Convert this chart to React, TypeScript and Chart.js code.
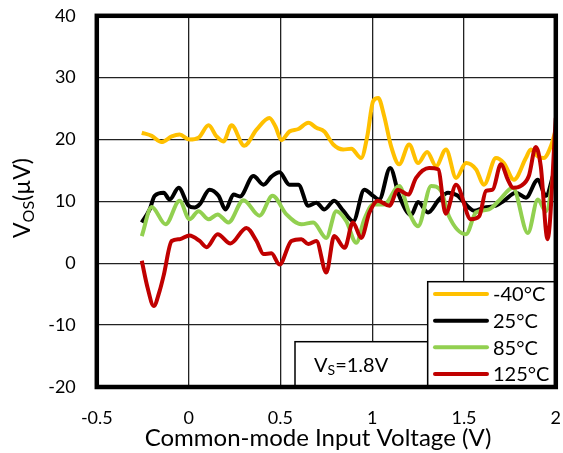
import React, { useEffect, useRef } from "react";
import { Chart, registerables } from "chart.js";

Chart.register(...registerables);

const FONT = "Lato, 'Open Sans', sans-serif";

const seriesLabels = ["-40°C", "25°C", "85°C", "125°C"];
const seriesColors = ["#FFC000", "#000000", "#92D050", "#C00000"];

const xTickValues = [-0.5, 0, 0.5, 1, 1.5, 2];
const yTickValues = [-20, -10, 0, 10, 20, 30, 40];

const xAxisTitle = "Common-mode Input Voltage (V)";

const xM40 = [-0.255, -0.201, -0.147, -0.092, -0.049, 0.005, 0.054, 0.109, 0.152, 0.19, 0.234, 0.303, 0.37, 0.44, 0.473, 0.505, 0.549, 0.598, 0.652, 0.696, 0.739, 0.788, 0.842, 0.886, 0.94, 0.973, 1.005, 1.033, 1.065, 1.103, 1.147, 1.201, 1.25, 1.299, 1.348, 1.402, 1.457, 1.511, 1.565, 1.609, 1.674, 1.717, 1.772, 1.837, 1.864, 1.902, 1.935, 1.973, 2.0];
const yM40 = [21.1, 20.6, 19.6, 20.5, 20.8, 20.0, 20.3, 22.3, 20.5, 19.7, 22.3, 19.0, 21.6, 23.5, 22.1, 19.9, 21.3, 21.7, 22.7, 21.9, 21.3, 19.2, 18.4, 18.5, 17.0, 20.5, 26.2, 26.7, 23.8, 18.9, 16.0, 19.2, 16.2, 18.0, 15.7, 18.4, 13.8, 16.2, 15.2, 12.7, 17.0, 16.2, 13.5, 17.0, 18.4, 17.3, 17.0, 18.9, 21.6];

const x25 = [-0.255, -0.212, -0.185, -0.136, -0.103, -0.054, 0.0, 0.033, 0.06, 0.114, 0.163, 0.201, 0.245, 0.28, 0.353, 0.408, 0.451, 0.495, 0.549, 0.598, 0.652, 0.696, 0.739, 0.793, 0.842, 0.897, 0.957, 1.005, 1.038, 1.098, 1.147, 1.212, 1.25, 1.304, 1.364, 1.413, 1.462, 1.527, 1.554, 1.609, 1.674, 1.717, 1.783, 1.837, 1.902, 1.946, 1.984, 2.0];
const y25 = [6.6, 8.7, 10.9, 11.4, 10.3, 12.2, 9.3, 9.0, 9.5, 11.9, 10.9, 8.7, 11.1, 10.8, 14.1, 12.7, 14.0, 14.7, 12.7, 12.7, 9.3, 9.8, 8.7, 10.1, 8.5, 6.8, 11.9, 10.9, 10.3, 15.4, 10.9, 7.8, 9.9, 8.2, 10.3, 11.4, 11.0, 9.0, 8.5, 9.0, 9.3, 10.1, 11.4, 10.6, 13.5, 10.9, 14.1, 16.0];

const x85 = [-0.255, -0.201, -0.125, -0.049, 0.005, 0.054, 0.109, 0.158, 0.217, 0.299, 0.386, 0.457, 0.533, 0.614, 0.679, 0.75, 0.804, 0.859, 0.913, 0.957, 1.005, 1.065, 1.147, 1.201, 1.25, 1.321, 1.375, 1.418, 1.511, 1.565, 1.636, 1.69, 1.766, 1.848, 1.902, 1.946, 2.0];
const y85 = [4.4, 9.1, 6.3, 10.1, 7.1, 8.4, 7.1, 7.9, 6.6, 10.2, 7.7, 10.9, 7.9, 6.3, 6.6, 4.1, 8.4, 6.8, 3.3, 7.1, 9.5, 9.5, 12.5, 8.2, 6.0, 12.5, 11.7, 7.6, 4.7, 8.2, 8.7, 10.1, 12.2, 4.9, 10.3, 8.4, 17.0];

const x125 = [-0.255, -0.223, -0.19, -0.158, -0.136, -0.092, -0.049, 0.005, 0.06, 0.098, 0.158, 0.228, 0.315, 0.37, 0.408, 0.451, 0.495, 0.56, 0.614, 0.652, 0.696, 0.75, 0.793, 0.85, 0.895, 0.94, 0.985, 1.03, 1.094, 1.14, 1.196, 1.239, 1.31, 1.359, 1.4, 1.457, 1.538, 1.583, 1.62, 1.656, 1.701, 1.739, 1.766, 1.81, 1.853, 1.891, 1.918, 1.955, 2.0];
const y125 = [0.4, -4.0, -6.9, -4.5, -2.0, 3.6, 3.9, 4.5, 3.6, 2.6, 4.7, 3.2, 5.7, 3.6, 1.5, 1.6, -0.2, 3.6, 3.9, 3.1, 3.6, -1.5, 4.4, 2.5, 6.6, 4.1, 8.2, 10.1, 9.3, 11.9, 11.1, 13.8, 15.4, 15.2, 8.0, 12.7, 7.1, 7.6, 11.7, 11.9, 16.0, 13.5, 12.2, 12.5, 14.1, 18.8, 15.7, 3.9, 23.5];

const seriesX = [xM40, x25, x85, x125];
const seriesY = [yM40, y25, y85, y125];

const toPoints = (xs: number[], ys: number[]) => xs.map((x, i) => ({ x, y: ys[i] }));

function drawSubText(
  ctx: CanvasRenderingContext2D,
  x: number,
  y: number,
  parts: { t: string; size: number; dy: number }[],
  align: "left" | "center"
) {
  let total = 0;
  for (const p of parts) {
    ctx.font = `${p.size}px ${FONT}`;
    total += ctx.measureText(p.t).width;
  }
  let cx = align === "center" ? x - total / 2 : x;
  ctx.textAlign = "left";
  ctx.textBaseline = "alphabetic";
  for (const p of parts) {
    ctx.font = `${p.size}px ${FONT}`;
    ctx.fillText(p.t, cx, y + p.dy);
    cx += ctx.measureText(p.t).width;
  }
}

const overlayPlugin = {
  id: "overlay",
  afterDatasetsDraw(chart: any) {
    const { ctx, chartArea } = chart;
    const { left, right, top, bottom } = chartArea;
    ctx.save();
    ctx.fillStyle = "#ffffff";
    ctx.strokeStyle = "#000000";
    ctx.lineWidth = 1.5;
    // V_S box
    const vsL = 295, vsR = 427.7, vsT = 341.7;
    ctx.fillRect(vsL, vsT, vsR - vsL, bottom - vsT);
    ctx.strokeRect(vsL, vsT, vsR - vsL, bottom - vsT);
    // legend box
    const lgL = 427.7, lgT = 281.7;
    ctx.fillRect(lgL, lgT, right - lgL, bottom - lgT);
    ctx.strokeRect(lgL, lgT, right - lgL, bottom - lgT);
    // frame
    ctx.lineWidth = 4.5;
    ctx.strokeRect(left, top, right - left, bottom - top);

    // legend entries
    const rowY = [294, 320.7, 347.3, 374];
    ctx.lineCap = "round";
    for (let i = 0; i < seriesLabels.length; i++) {
      ctx.strokeStyle = seriesColors[i];
      ctx.lineWidth = 4;
      ctx.beginPath();
      ctx.moveTo(435, rowY[i]);
      ctx.lineTo(487, rowY[i]);
      ctx.stroke();
      ctx.fillStyle = "#000";
      ctx.font = `20px ${FONT}`;
      ctx.textAlign = "left";
      ctx.textBaseline = "middle";
      ctx.fillText(seriesLabels[i], 493, rowY[i] + 1);
    }

    // V_S label
    ctx.fillStyle = "#000";
    drawSubText(
      ctx,
      314,
      372,
      [
        { t: "V", size: 20, dy: 0 },
        { t: "S", size: 14, dy: 3 },
        { t: "=1.8V", size: 20, dy: 0 },
      ],
      "left"
    );

    // X axis title
    ctx.font = `24px ${FONT}`;
    ctx.textAlign = "center";
    ctx.textBaseline = "middle";
    ctx.fillText(xAxisTitle, 318, 438);

    // Y axis title
    ctx.translate(30, 198);
    ctx.rotate(-Math.PI / 2);
    drawSubText(
      ctx,
      0,
      0,
      [
        { t: "V", size: 23, dy: 0 },
        { t: "OS", size: 16, dy: 4 },
        { t: "(µV)", size: 23, dy: 0 },
      ],
      "center"
    );
    ctx.restore();
  },
};

export default function App() {
  const canvasRef = useRef<HTMLCanvasElement | null>(null);

  useEffect(() => {
    const canvas = canvasRef.current;
    if (!canvas) return;
    const datasets = seriesLabels.map((label, i) => ({
      label,
      data: toPoints(seriesX[i], seriesY[i]),
      borderColor: seriesColors[i],
      backgroundColor: seriesColors[i],
      borderWidth: 4,
      pointRadius: 0,
      fill: false,
      cubicInterpolationMode: "monotone" as const,
      order: seriesLabels.length - i,
    }));
    const chart = new Chart(canvas, {
      type: "line",
      data: { datasets },
      plugins: [overlayPlugin],
      options: {
        responsive: false,
        animation: false,
        events: [],
        layout: { padding: { top: 15.8, right: 7.2, bottom: 0, left: 0 } },
        plugins: {
          legend: { display: false },
          tooltip: { enabled: false },
          title: { display: false },
        },
        scales: {
          x: {
            type: "linear",
            min: -0.5,
            max: 2,
            afterBuildTicks: (s: any) => {
              s.ticks = xTickValues.map((v) => ({ value: v }));
            },
            afterFit: (s: any) => {
              s.height = 66;
              s.paddingLeft = 0;
              s.paddingRight = 0;
            },
            grid: { color: "#222", lineWidth: 1.3, drawTicks: false },
            border: { display: false },
            ticks: {
              padding: 20,
              color: "#000",
              font: { family: FONT, size: 18 },
              maxRotation: 0,
              callback: (v: any) => String(v),
            },
            title: { display: false },
          },
          y: {
            type: "linear",
            min: -20,
            max: 40,
            afterBuildTicks: (s: any) => {
              s.ticks = yTickValues.map((v) => ({ value: v }));
            },
            afterFit: (s: any) => {
              s.width = 96.8;
              s.paddingTop = 0;
              s.paddingBottom = 0;
            },
            grid: { color: "#222", lineWidth: 1.3, drawTicks: false },
            border: { display: false },
            ticks: {
              padding: 21,
              color: "#000",
              font: { family: FONT, size: 18 },
              callback: (v: any) => String(v),
            },
          },
        },
      },
    });
    return () => chart.destroy();
  }, []);

  return (
    <div style={{ position: "fixed", left: 0, top: 0, width: 563, height: 453, background: "#fff" }}>
      <canvas ref={canvasRef} width={563} height={453} style={{ display: "block" }} />
    </div>
  );
}
